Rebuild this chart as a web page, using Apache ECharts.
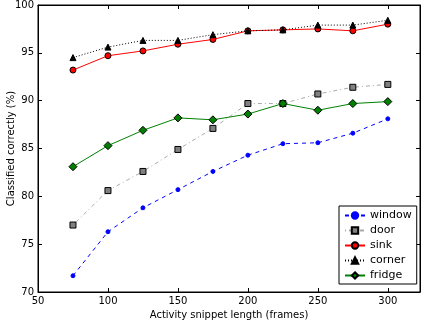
<!DOCTYPE html>
<html><head><meta charset="utf-8">
<script src="https://cdn.jsdelivr.net/npm/echarts@6/dist/echarts.min.js"></script>
<style>html,body{margin:0;padding:0;background:#fff}#c{width:421px;height:320px}</style>
</head><body><div id="c"></div>
<script>
const lengths = [75, 100, 125, 150, 175, 200, 225, 250, 275, 300];
const windowVals = [71.7, 76.3, 78.8, 80.7, 82.6, 84.3, 85.5, 85.6, 86.6, 88.1];
const doorVals   = [77.0, 80.6, 82.6, 84.9, 87.1, 89.7, 89.7, 90.7, 91.4, 91.7];
const sinkVals   = [93.2, 94.7, 95.2, 95.9, 96.4, 97.3, 97.4, 97.5, 97.3, 98.0];
const cornerVals = [94.5, 95.6, 96.3, 96.3, 96.9, 97.3, 97.4, 97.9, 97.9, 98.4];
const fridgeVals = [83.1, 85.3, 86.9, 88.2, 88.0, 88.6, 89.7, 89.0, 89.7, 89.9];
const seriesNames = ['window', 'door', 'sink', 'corner', 'fridge'];

const pair = v => lengths.map((x, i) => [x, v[i]]);
const font = 'DejaVu Sans';
const chart = echarts.init(document.getElementById('c'), null, {renderer: 'canvas'});

function mk(name, vals, color, lineType, symbol, size, fill, border, lineColor) {
  return {
    name, type: 'line', data: pair(vals), symbol, symbolSize: size,
    lineStyle: {color: lineColor || color, width: 1, type: lineType},
    itemStyle: {color: fill, borderColor: border, borderWidth: 1},
    emphasis: {disabled: true}, animation: false, xAxisIndex: 0, yAxisIndex: 0
  };
}

const axisBase = {
  axisLine: {show: true, onZero: false, lineStyle: {color: '#000', width: 1}},
  axisTick: {show: true, inside: true, length: 4, lineStyle: {color: '#000'}},
  splitLine: {show: false}
};

chart.setOption({
  animation: false,
  grid: {left: 38, right: 1, top: 5, bottom: 28, show: true, borderColor: '#000', borderWidth: 1,
         containLabel: false, outerBoundsMode: 'none'},
  xAxis: [
    Object.assign({type: 'value', min: 50, max: 323, interval: 50, position: 'bottom',
      name: 'Activity snippet length (frames)', nameLocation: 'middle', nameGap: 18, nameMoveOverlap: false,
      nameTextStyle: {fontFamily: font, fontSize: 10, color: '#000'},
      axisLabel: {fontFamily: font, fontSize: 10, color: '#000', margin: 4, showMaxLabel: false}}, axisBase),
    Object.assign({type: 'value', min: 50, max: 323, interval: 50, position: 'top',
      axisLabel: {show: false}}, axisBase)
  ],
  yAxis: [
    Object.assign({type: 'value', min: 70, max: 100, interval: 5, position: 'left',
      name: 'Classified correctly (%)', nameLocation: 'middle', nameGap: 22, nameMoveOverlap: false,
      nameTextStyle: {fontFamily: font, fontSize: 10, color: '#000'},
      axisLabel: {fontFamily: font, fontSize: 10, color: '#000', margin: 4}}, axisBase),
    Object.assign({type: 'value', min: 70, max: 100, interval: 5, position: 'right',
      axisLabel: {show: false}}, axisBase)
  ],
  legend: {
    data: seriesNames, orient: 'vertical', left: 339, top: 206,
    backgroundColor: '#fff', borderColor: '#000', borderWidth: 1,
    padding: [4, 5, 3, 5], itemGap: 4, itemWidth: 20, itemHeight: 8,
    textStyle: {fontFamily: font, fontSize: 11, color: '#000'}
  },
  series: [
    mk('window', windowVals, '#0000ff', [4, 4], 'circle', 4, '#0000ff', '#0000ff'),
    mk('door', doorVals, '#999', [1, 3, 4, 3], 'rect', 6, '#808080', '#000', '#aaaaaa'),
    mk('sink', sinkVals, '#ff0000', 'solid', 'circle', 6, '#ff0000', '#000'),
    mk('corner', cornerVals, '#000', [1, 2], 'triangle', 6, '#000', '#000'),
    mk('fridge', fridgeVals, '#008000', 'solid', 'diamond', 8, '#008000', '#000')
  ]
});
</script></body></html>
